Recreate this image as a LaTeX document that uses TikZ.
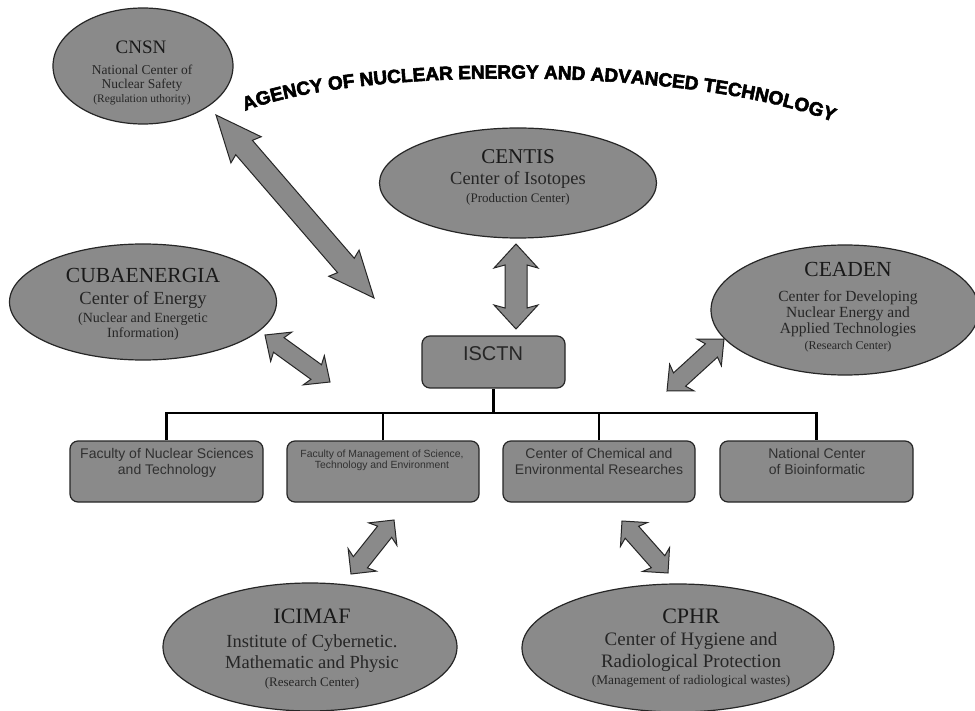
\documentclass[tikz,border=0pt]{standalone}
\usepackage{fontspec}
\setmainfont{Liberation Serif}
\setsansfont{Liberation Sans}
\newfontfamily\agencyfont[FakeBold=3]{Liberation Sans Bold}
\usetikzlibrary{calc,decorations.text,shapes.geometric}
\definecolor{fillg}{HTML}{8A8A8A}
\definecolor{txtg}{HTML}{262626}
\definecolor{boxt}{HTML}{303030}
\newcommand\fsz[1]{\fontsize{#1}{#1}\selectfont}
\newcommand\dblarrow[5]{%
  \filldraw[blockarr]
    (#1) -- ($(#1)!#3!(#2)!#4!90:(#2)$) -- ($(#1)!#3-3pt!(#2)!#5!90:(#2)$)
    -- ($(#2)!#3-3pt!(#1)!#5!-90:(#1)$) -- ($(#2)!#3!(#1)!#4!-90:(#1)$)
    -- (#2)
    -- ($(#2)!#3!(#1)!#4!90:(#1)$) -- ($(#2)!#3-3pt!(#1)!#5!90:(#1)$)
    -- ($(#1)!#3-3pt!(#2)!#5!-90:(#2)$) -- ($(#1)!#3!(#2)!#4!-90:(#2)$) -- cycle;}
\tikzset{
  ell/.style={ellipse, draw=black!85, line width=1.2pt, fill=fillg, inner sep=0pt},
  rbox/.style={rectangle, rounded corners=8pt, draw=black!85, line width=1.2pt, fill=fillg, inner sep=0pt},
  tl/.style={anchor=base, inner sep=0pt, text=txtg},
  tt/.style={anchor=base, inner sep=0pt, text=black!90},
  bt/.style={anchor=base, inner sep=0pt, text=boxt, font=\sffamily\fsz{14}},
  tree/.style={line width=2.6pt, black},
  blockarr/.style={draw=black!85, line width=1pt, fill=fillg, line join=miter}
}
\begin{document}
\begin{tikzpicture}[x=1pt, y=-1pt]
\fill[white] (0,0) rectangle (975,711);
\useasboundingbox (0,0) rectangle (975,711);

% ellipses
\node[ell, minimum width=180pt, minimum height=116pt] (cnsn) at (143,66) {};
\node[ell, minimum width=277pt, minimum height=110pt] (centis) at (518,183) {};
\node[ell, minimum width=267pt, minimum height=116pt] (cuba) at (143,302) {};
\node[ell, minimum width=268pt, minimum height=130pt] (ceaden) at (845,310) {};
\node[ell, minimum width=294pt, minimum height=128pt] (icimaf) at (310,647) {};
\node[ell, minimum width=312pt, minimum height=128pt] (cphr) at (678,648) {};

% ellipse texts
\node[tt, font=\fsz{19}] (cnsn-1) at (141,54) {CNSN};
\node[tl, font=\fsz{13.5}] (cnsn-2) at (142,75) {National Center of};
\node[tl, font=\fsz{13.5}] (cnsn-3) at (142,89) {Nuclear Safety};
\node[tl, font=\fsz{11.5}] (cnsn-4) at (142,103) {(Regulation uthority)};

\node[tt, font=\fsz{21}] (centis-1) at (518,164) {CENTIS};
\node[tl, font=\fsz{18.5}] (centis-2) at (518,185) {Center of Isotopes};
\node[tl, font=\fsz{13}] (centis-3) at (518,203) {(Production Center)};

\node[tt, font=\fsz{21.5}] (cuba-1) at (143,283) {CUBAENERGIA};
\node[tl, font=\fsz{18.5}] (cuba-2) at (143,305) {Center of Energy};
\node[tl, font=\fsz{14}] (cuba-3) at (143,323) {(Nuclear and Energetic};
\node[tl, font=\fsz{14}] (cuba-4) at (143,338) {Information)};

\node[tt, font=\fsz{21.5}] (ceaden-1) at (848,277) {CEADEN};
\node[tl, font=\fsz{15.5}] (ceaden-2) at (848,302) {Center for Developing};
\node[tl, font=\fsz{15.5}] (ceaden-3) at (848,318) {Nuclear Energy and};
\node[tl, font=\fsz{15.5}] (ceaden-4) at (848,334) {Applied Technologies};
\node[tl, font=\fsz{12}] (ceaden-5) at (848,350) {(Research Center)};

\node[tt, font=\fsz{22}] (icimaf-1) at (312,623) {ICIMAF};
\node[tl, font=\fsz{18.5}] (icimaf-2) at (312,647) {Institute of Cybernetic.};
\node[tl, font=\fsz{18.5}] (icimaf-3) at (312,668) {Mathematic and Physic};
\node[tl, font=\fsz{13}] (icimaf-4) at (312,686) {(Research Center)};

\node[tt, font=\fsz{22}] (cphr-1) at (691,623) {CPHR};
\node[tl, font=\fsz{19}] (cphr-2) at (691,645) {Center of Hygiene and};
\node[tl, font=\fsz{19}] (cphr-3) at (691,667) {Radiological Protection};
\node[tl, font=\fsz{13.3}] (cphr-4) at (691,684) {(Management of radiological wastes)};

% ISCTN and faculty boxes
\node[rbox, minimum width=143pt, minimum height=52pt] (isctn) at (493.5,362) {};
\node[anchor=base, inner sep=0pt, text=black!85, font=\sffamily\fsz{20}] (isctn-t) at (493,360) {ISCTN};

\node[rbox, minimum width=193pt, minimum height=61pt] (f1) at (166.5,471.5) {};
\node[rbox, minimum width=192pt, minimum height=61pt] (f2) at (383,471.5) {};
\node[rbox, minimum width=192pt, minimum height=61pt] (f3) at (599,471.5) {};
\node[rbox, minimum width=193pt, minimum height=61pt] (f4) at (816.5,471.5) {};

\node[bt] (f1-1) at (167,458) {Faculty of Nuclear Sciences};
\node[bt] (f1-2) at (167,474) {and Technology};
\node[bt, font=\sffamily\fsz{10.4}] (f2-1) at (382,457) {Faculty of Management of Science,};
\node[bt, font=\sffamily\fsz{10.4}] (f2-2) at (382,468.5) {Technology and Environment};
\node[bt] (f3-1) at (599,458) {Center of Chemical and};
\node[bt] (f3-2) at (599,474) {Environmental Researches};
\node[bt] (f4-1) at (817,458) {National Center};
\node[bt] (f4-2) at (817,474) {of Bioinformatic};

% tree connectors
\coordinate (bus) at (493.5,413);
\draw[tree] (isctn.south) -- (bus);
\draw[tree] (f1.north) |- (bus) -| (f4.north);
\draw[tree] (f2.north) -- (f2.north |- bus);
\draw[tree] (f3.north) -- (f3.north |- bus);

% block arrows
\coordinate (a1s) at (216,115);
\coordinate (a1e) at (374,298);
\coordinate (a2s) at (516,244);
\coordinate (a2e) at (516,329);
\coordinate (a3s) at (265,335);
\coordinate (a3e) at (330,382);
\coordinate (a4s) at (667,391);
\coordinate (a4e) at (724,339);
\coordinate (a5s) at (351,574);
\coordinate (a5e) at (394,520);
\coordinate (a6s) at (622,521);
\coordinate (a6e) at (668,573);
\dblarrow{a1s}{a1e}{46pt}{20pt}{11pt}
\dblarrow{a2s}{a2e}{24pt}{22pt}{11pt}
\dblarrow{a3s}{a3e}{20pt}{18pt}{9pt}
\dblarrow{a4s}{a4e}{20pt}{18pt}{9pt}
\dblarrow{a5s}{a5e}{18pt}{18pt}{9pt}
\dblarrow{a6s}{a6e}{18pt}{18pt}{9pt}

% curved title
\path[decorate, decoration={text along path, text align=center,
  text={|\agencyfont\fsz{19}|AGENCY OF NUCLEAR ENERGY AND ADVANCED TECHNOLOGY}}]
  (226,120) .. controls (320,64) and (712,62) .. (852,130);
\end{tikzpicture}
\end{document}
